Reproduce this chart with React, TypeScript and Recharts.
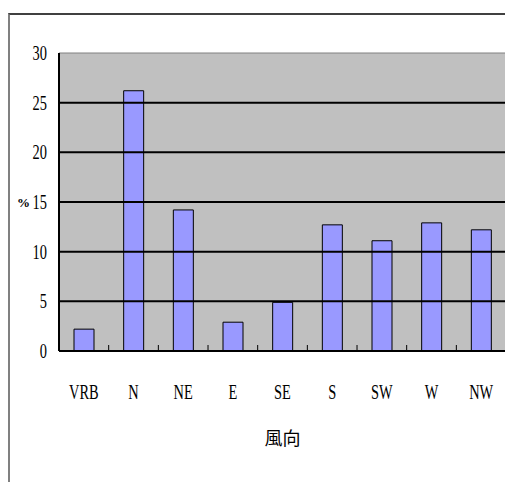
import React from 'react';
import { BarChart, Bar, XAxis, YAxis, CartesianGrid, ReferenceLine } from 'recharts';

const directions = ['VRB', 'N', 'NE', 'E', 'SE', 'S', 'SW', 'W', 'NW'];
const percents = [2.2, 26.2, 14.2, 2.9, 4.9, 12.7, 11.1, 12.9, 12.2];
const yTicks = [0, 5, 10, 15, 20, 25, 30];
const gridValues = [5, 10, 15, 20, 25];

const data = directions.map((d, i) => ({ dir: d, pct: percents[i] }));

const FONT = "'Liberation Serif', serif";
const BAND = 49.7;

// narrow, tall lettering like the old chart font
const CondText = ({ x, y, anchor, children }: any) => (
  <text
    transform={`translate(${x},${y}) scale(0.72,1)`}
    textAnchor={anchor}
    dominantBaseline="central"
    fontFamily={FONT}
    fontSize={20}
    fill="#000"
  >
    {children}
  </text>
);

const DirTick = (props: any) => {
  const { x, y, payload, index } = props;
  return (
    <g>
      {index < directions.length - 1 && (
        <line x1={x + BAND / 2} x2={x + BAND / 2} y1={y} y2={y - 6} stroke="#000" strokeWidth={1} />
      )}
      <CondText x={x} y={y + 41} anchor="middle">
        {payload.value}
      </CondText>
    </g>
  );
};

const PctTick = (props: any) => {
  const { x, y, payload } = props;
  return (
    <CondText x={x} y={y} anchor="end">
      {payload.value}
    </CondText>
  );
};

export default function App() {
  return (
    <div style={{ position: 'absolute', left: 0, top: 0, width: 505, height: 482, overflow: 'hidden', background: '#fff' }}>
      <div
        style={{
          position: 'absolute',
          left: 8,
          top: 13,
          width: 520,
          height: 480,
          borderLeft: '2px solid #808080',
          borderTop: '2px solid #404040',
        }}
      />
      <div style={{ position: 'absolute', left: 0, top: 0 }}>
        <BarChart width={520} height={482} data={data} margin={{ top: 53, left: 8, right: 14, bottom: 31 }} barCategoryGap={0}>
          <CartesianGrid horizontal={false} vertical={false} fill="#c0c0c0" />
          {gridValues.map((v) => (
            <ReferenceLine key={`g-${v}`} y={v} stroke="#000" strokeWidth={2} />
          ))}
          <ReferenceLine y={30} stroke="#808080" strokeWidth={1} />
          <XAxis
            dataKey="dir"
            height={100}
            axisLine={{ stroke: '#000', strokeWidth: 2 }}
            tickLine={false}
            tickSize={0}
            tickMargin={0}
            interval={0}
            tick={<DirTick />}
            label={{ value: '風向', position: 'insideBottom', offset: 6, fontFamily: "'Noto Sans CJK TC', sans-serif", fontSize: 18, fill: '#000' }}
          />
          <YAxis
            width={51}
            domain={[0, 30]}
            ticks={yTicks}
            interval={0}
            axisLine={{ stroke: '#000', strokeWidth: 2 }}
            tickLine={false}
            tickSize={0}
            tickMargin={12}
            tick={<PctTick />}
            label={{ value: '%', position: 'insideLeft', offset: 9, fontFamily: FONT, fontSize: 13, fontWeight: 'bold', fill: '#000' }}
          />
          <Bar dataKey="pct" fill="#9999ff" stroke="#000" strokeWidth={1} barSize={20} isAnimationActive={false} />
        </BarChart>
      </div>
    </div>
  );
}
